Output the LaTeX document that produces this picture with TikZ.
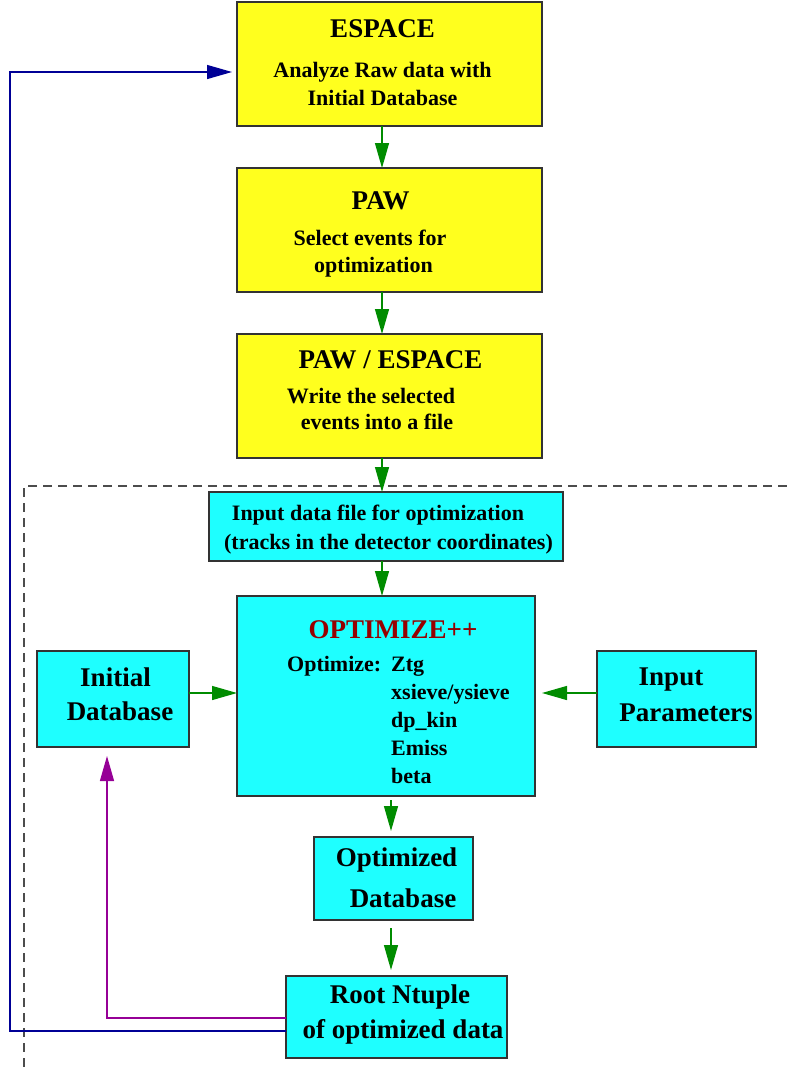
\documentclass[tikz,border=0pt]{standalone}
\usepackage{fontspec}
\setmainfont{Liberation Serif}
\usetikzlibrary{arrows.meta,positioning,calc}
\definecolor{boxyellow}{RGB}{255,255,30}
\definecolor{boxcyan}{RGB}{30,255,255}
\definecolor{flowgreen}{RGB}{0,140,0}
\definecolor{loopblue}{RGB}{0,0,150}
\definecolor{looppurple}{RGB}{150,0,150}
\definecolor{optred}{RGB}{150,0,0}
\tikzset{
  box/.style={draw=black!80,line width=1.3pt,inner sep=0pt,outer sep=0pt},
  yellowbox/.style={box,fill=boxyellow},
  cyanbox/.style={box,fill=boxcyan},
  big/.style={font=\bfseries\fontsize{27}{32}\selectfont,anchor=base,inner sep=0pt},
  small/.style={font=\bfseries\fontsize{22}{27}\selectfont,anchor=base,inner sep=0pt},
  tip/.style={-{Triangle[length=25pt,width=14pt]}},
  flow/.style={tip,flowgreen,line width=1.3pt},
  back/.style={tip,line width=1.3pt},
  region/.style={black!70,line width=1.3pt,dash pattern=on 9pt off 6pt}
}

\begin{document}
\begin{tikzpicture}[x=1pt,y=-1pt]
        \useasboundingbox (0,0) rectangle (787,1072);
        % dashed region around the optimization
        \draw[region] (787,486) -- (24,486) -- (24,1072);
        % draw preparation boxes
        \node[yellowbox,minimum width=305pt,minimum height=124pt] (espace) at (389.5,64) {};
        \node[big] (espacet) at (382.5,37) {ESPACE};
        \node[small] (espacea) at (382.5,77) {Analyze Raw data with};
        \node[small] (espaceb) at (382.5,105) {Initial Database};
        \node[yellowbox,minimum width=305pt,minimum height=124pt] (paw) at (389.5,230) {};
        \node[big] (pawt) at (380.5,209) {PAW};
        \node[small] (pawa) at (370,245) {Select events for};
        \node[small] (pawb) at (373.5,272) {optimization};
        \node[yellowbox,minimum width=305pt,minimum height=124pt] (pawesp) at (389.5,396) {};
        \node[big] (pawespt) at (390.5,368) {PAW / ESPACE};
        \node[small] (pawespa) at (371,403) {Write the selected};
        \node[small] (pawespb) at (377,429) {events into a file};
        % draw optimization boxes
        \node[cyanbox,minimum width=354pt,minimum height=69pt] (input) at (386,526.5) {};
        \node[small] (inputa) at (378,520) {Input data file for optimization};
        \node[small] (inputb) at (388.5,549) {(tracks in the detector coordinates)};
        \node[cyanbox,minimum width=298pt,minimum height=200pt] (optim) at (386,696) {};
        \node[big,text=optred] (optimt) at (393,638) {OPTIMIZE++};
        \node[small,anchor=base west] (optimk) at (287,671) {Optimize:};
        \node[small,anchor=base west] (ztg) at (391,671) {Ztg};
        \node[small,anchor=base west] (sieve) at (391,699) {xsieve/ysieve};
        \node[small,anchor=base west] (dpkin) at (391,727) {dp\_kin};
        \node[small,anchor=base west] (emiss) at (391,755) {Emiss};
        \node[small,anchor=base west] (beta) at (391,783) {beta};
        \node[cyanbox,minimum width=152pt,minimum height=96pt] (initdb) at (113,699) {};
        \node[big] (initdba) at (115.5,686) {Initial};
        \node[big] (initdbb) at (120,720) {Database};
        \node[cyanbox,minimum width=159pt,minimum height=96pt] (params) at (676.5,699) {};
        \node[big] (paramsa) at (671,685) {Input};
        \node[big] (paramsb) at (686,721) {Parameters};
        \node[cyanbox,minimum width=159pt,minimum height=83pt] (optdb) at (393.5,878.5) {};
        \node[big] (optdba) at (396.5,866) {Optimized};
        \node[big] (optdbb) at (403,907) {Database};
        \node[cyanbox,minimum width=221pt,minimum height=82pt] (root) at (396.5,1017) {};
        \node[big] (roota) at (400,1003) {Root Ntuple};
        \node[big] (rootb) at (403,1038) {of optimized data};
        % helper coordinates
        \coordinate (chainx) at (382,0);
        \coordinate (outx) at (391,0);
        \coordinate (sidey) at (0,693);
        \coordinate (purpley) at (0,1018);
        \coordinate (purplex) at (107,0);
        \coordinate (bluey) at (0,1031);
        \coordinate (bluecorner) at (10,72);
        \coordinate (bluetip) at (232,72);
        % draw green flow
        \foreach \from/\to in {espace/paw,paw/pawesp,pawesp/input,input/optim}
        \draw[flow] (\from.south -| chainx) -- (\to.north -| chainx);
        \draw[flow] ([yshift=-4pt]optim.south -| outx) -- ([yshift=6pt]optdb.north -| outx);
        \draw[flow] ([yshift=-8pt]optdb.south -| outx) -- ([yshift=6pt]root.north -| outx);
        \draw[flow] (initdb.east |- sidey) -- (optim.west |- sidey);
        \draw[flow] (params.west |- sidey) -- ([xshift=7pt]optim.east |- sidey);
        % draw loops back
        \draw[back,looppurple] (root.west |- purpley) -| ([yshift=-9pt]initdb.south -| purplex);
        \draw[back,loopblue] (root.west |- bluey) -| (bluecorner) -- (bluetip);
\end{tikzpicture}
\end{document}
